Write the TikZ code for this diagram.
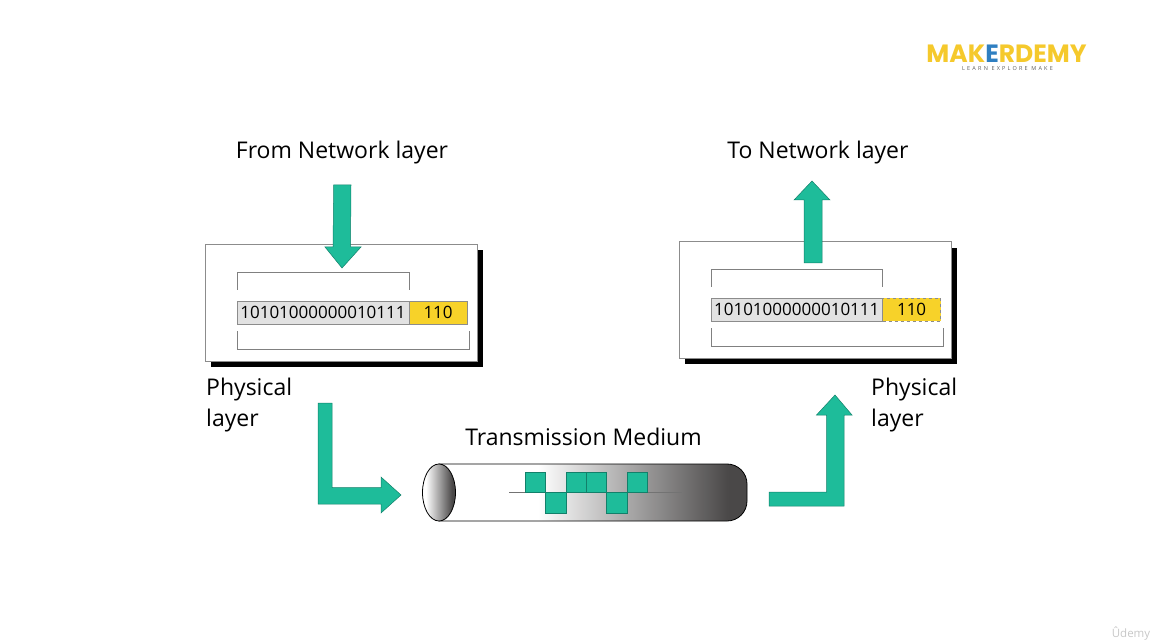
\documentclass[tikz,border=0pt]{standalone}
\usepackage{fontspec}
\usetikzlibrary{shapes.geometric}
\setmainfont{Open Sans}
\newfontfamily\logofont{Poppins}
\definecolor{tealfill}{HTML}{1EBC9A}
\definecolor{tealline}{HTML}{12806A}
\definecolor{bitgray}{HTML}{E2E2E2}
\definecolor{crcyellow}{HTML}{F7D229}
\definecolor{tubedark}{HTML}{4A4848}
\definecolor{logoyellow}{HTML}{F5C92C}
\definecolor{logoblue}{HTML}{2F7FC1}
\pgfdeclarehorizontalshading{tubeshade}{100bp}{color(0bp)=(white); color(41bp)=(white); color(72bp)=(tubedark); color(100bp)=(tubedark)}
\pgfdeclarehorizontalshading{capshade}{100bp}{color(0bp)=(white); color(30bp)=(white); color(70bp)=(tubedark); color(100bp)=(tubedark)}
\tikzset{
  layerbox/.style={draw=black!45,fill=white,line width=.7pt},
  boxshadow/.style={fill=black},
  bracket/.style={draw=black!50,line width=.7pt},
  blockarrow/.style={draw=tealline,fill=tealfill,line width=.5pt,line join=miter},
  bitcell/.style={draw=black!45,fill=bitgray,minimum height=23pt,inner sep=0pt,font=\fontsize{17}{17}\selectfont},
  crccell/.style={draw=black!45,fill=crcyellow,minimum height=23pt,inner sep=0pt,font=\fontsize{17}{17}\selectfont},
  caption/.style={font=\fontsize{23}{31}\selectfont,inner sep=0pt},
  pulse/.style={draw=tealline,fill=tealfill,line width=.5pt,minimum width=20.4pt,minimum height=20.4pt,inner sep=0pt}
}
\begin{document}
\begin{tikzpicture}[x=1pt,y=-1pt]
  \useasboundingbox (0,0) rectangle (1156,644);
  % logo
  \node[inner sep=0pt,anchor=center] (logo) at (1006.5,54) {\logofont\fontsize{25}{25}\selectfont\bfseries
    \textcolor{logoyellow}{MAK}\textcolor{logoblue}{E}\textcolor{logoyellow}{RDEMY}};
  \node[inner sep=0pt,text=black!65] (tagline) at (1007.5,69) {\fontsize{5.5}{6}\selectfont\addfontfeature{LetterSpace=40}LEARN EXPLORE MAKE};
  % captions
  \node[caption] (fromnet) at (342,152.5) {From Network layer};
  \node[caption] (tonet) at (818,152.5) {To Network layer};
  \node[caption,align=left,anchor=north west] (physleft) at (206,378) {Physical\\layer};
  \node[caption,align=left,anchor=north west] (physright) at (871,378) {Physical\\layer};
  \node[caption] (medium) at (583.5,437) {Transmission Medium};
  % sender box
  \fill[boxshadow] (211,250) rectangle (483,367);
  \node[layerbox,minimum width=272pt,minimum height=117pt,inner sep=0pt,anchor=north west] (sendbox) at (205,244) {};
  \node[bitcell,minimum width=171.5pt,anchor=north west] (sendbits) at (237,300.5) {10101000000010111};
  \node[crccell,minimum width=58pt,anchor=west] (sendcrc) at (sendbits.east) {110};
  \draw[bracket] (237.5,289.5) |- (409,272) -- (409,289.5);
  \draw[bracket] (237.5,331) |- (469.5,349) -- (469.5,331);
  % receiver box
  \fill[boxshadow] (685,248) rectangle (957,364);
  \node[layerbox,minimum width=272pt,minimum height=116.5pt,inner sep=0pt,anchor=north west] (recvbox) at (679,241.5) {};
  \node[bitcell,minimum width=171pt,anchor=north west] (recvbits) at (711,298) {10101000000010111};
  \node[crccell,minimum width=58pt,anchor=west,dashed] (recvcrc) at (recvbits.east) {110};
  \draw[bracket] (711.5,287) |- (882.5,269) -- (882.5,287);
  \draw[bracket] (711.5,328) |- (943.5,346) -- (943.5,328);
  % arrows
  \draw[blockarrow] (333.7,185) -- (351,185) -- (350.5,247) -- (361,247) -- (342,268) -- (325,247) -- (333,247) -- cycle;
  \draw[blockarrow] (804,263) -- (804,200) -- (794,200) -- (812,181) -- (830,200) -- (822,200) -- (822,263) -- cycle;
  \draw[blockarrow] (318,403) -- (332,403) -- (332,487.5) -- (381,487.5) -- (381,477) -- (401,495) -- (381,513) -- (381,504) -- (318,504) -- cycle;
  \draw[blockarrow] (769,506) -- (769,492) -- (826.7,492) -- (826.7,415) -- (816.5,415) -- (835,395) -- (852,415) -- (844,415) -- (844,506) -- cycle;
  % medium
  \path[shading=tubeshade,draw=black,line width=.8pt] (439,464) -- (727,464) to[out=0,in=90] (747,484) -- (747,501) to[out=-90,in=0] (727,521) -- (439,521) -- cycle;
  \node[ellipse,draw=black,line width=.8pt,shading=capshade,minimum width=33pt,minimum height=57pt,inner sep=0pt] (tubecap) at (439,492.5) {};
  \draw[black!55,line width=.7pt] (509,492.7) -- (682,492.7);
  \foreach \cx/\cy/\cname in {535.2/482.5/a,555.6/502.9/b,576.2/482.5/c,596.5/482.5/d,616.8/502.9/e,637.2/482.5/f}
    \node[pulse] (pulse\cname) at (\cx,\cy) {};
  % watermark
  \node[inner sep=0pt,text=black!22] (mark) at (1131,634) {\fontsize{11.5}{11.5}\selectfont Ûdemy};
\end{tikzpicture}
\end{document}
